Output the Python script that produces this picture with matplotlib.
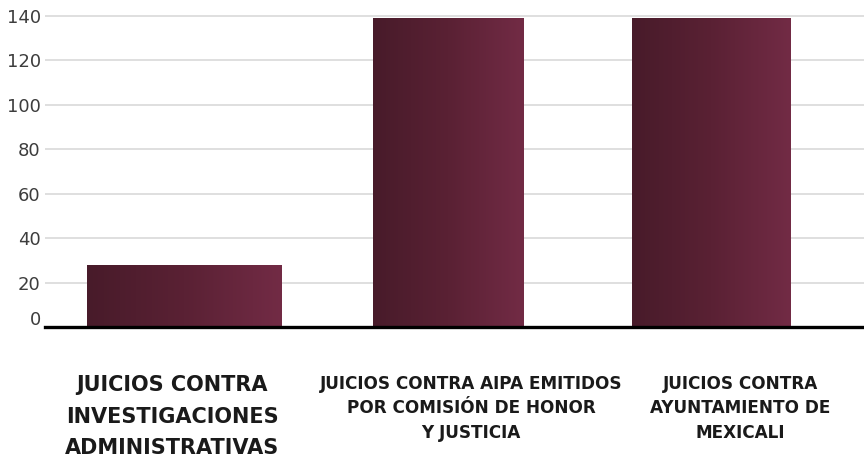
import numpy as np
import matplotlib.pyplot as plt
import matplotlib.transforms as mtransforms
from matplotlib.colors import LinearSegmentedColormap

categorias = [
    "JUICIOS CONTRA\nINVESTIGACIONES\nADMINISTRATIVAS",
    "JUICIOS CONTRA AIPA EMITIDOS\nPOR COMISIÓN DE HONOR\nY JUSTICIA",
    "JUICIOS CONTRA\nAYUNTAMIENTO DE\nMEXICALI",
]
juicios = [28, 139, 139]
yticks = [0, 20, 40, 60, 80, 100, 120, 140]

plt.rcParams['font.family'] = ['DejaVu Sans']

fig = plt.figure(figsize=(8.64, 4.59), dpi=100)
ax = fig.add_axes([0.052, 0.2876, 0.948, 0.6872])

x = np.arange(len(juicios))
anchos = [0.74, 0.57, 0.60]
bars = ax.bar(x, juicios, width=anchos, color='#5c2236', zorder=2)

# degradado horizontal dentro de cada barra
guinda = LinearSegmentedColormap.from_list('guinda', ['#481b2a', '#5a2134', '#722b45'])
grad = np.linspace(0, 1, 256).reshape(1, -1)
for b in bars:
    x0, w, h = b.get_x(), b.get_width(), b.get_height()
    im = ax.imshow(grad, cmap=guinda, aspect='auto', extent=[x0, x0 + w, 0, h], zorder=3)
    im.set_clip_path(b)

ax.set_xlim(-0.53, 2.58)
ax.set_ylim(0, 142)
ax.set_yticks(yticks)
ax.set_xticks([])
ax.tick_params(axis='y', length=0, pad=3, labelsize=13, labelcolor='#3d3d3d')
# el cero queda un poco por encima de la línea base
ax.get_yticklabels()[0].set_transform(
    ax.get_yticklabels()[0].get_transform()
    + mtransforms.ScaledTranslation(0, 9 / 100, fig.dpi_scale_trans))

ax.grid(axis='y', color='#dcdcdc', linewidth=1.3, zorder=0)
ax.set_axisbelow(True)
for s in ['top', 'right', 'left']:
    ax.spines[s].set_visible(False)
ax.spines['bottom'].set_color('black')
ax.spines['bottom'].set_linewidth(2.4)
ax.spines['bottom'].set_zorder(5)

# etiquetas de categoría bajo el eje
fig.text(172 / 864, 1 - 375 / 459, categorias[0], ha='center', va='top',
         fontsize=15, fontweight='bold', color='#1a1a1a', linespacing=1.72)
fig.text(471 / 864, 1 - 375 / 459, categorias[1], ha='center', va='top',
         fontsize=12.2, fontweight='bold', color='#1a1a1a', linespacing=1.46)
fig.text(740 / 864, 1 - 375 / 459, categorias[2], ha='center', va='top',
         fontsize=12.2, fontweight='bold', color='#1a1a1a', linespacing=1.46)

fig.savefig('out.png', dpi=100, facecolor='white')
